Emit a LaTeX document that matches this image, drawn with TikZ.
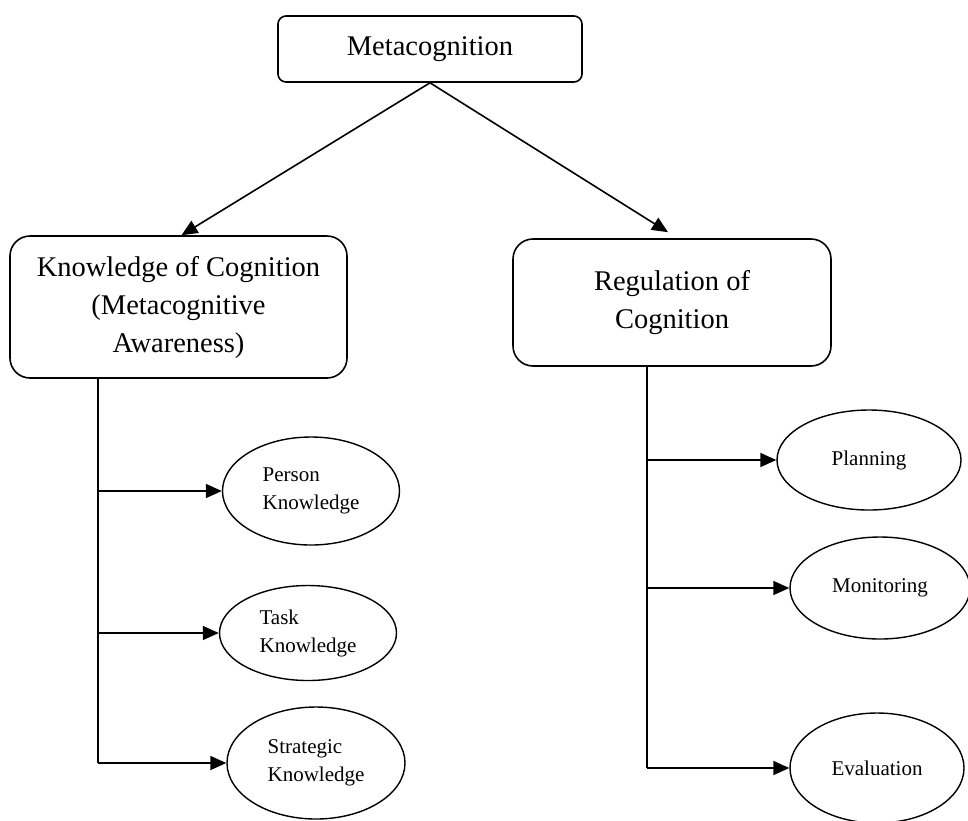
\documentclass[tikz,border=0pt]{standalone}
\usepackage{fontspec}
\setmainfont{Liberation Serif}
\usetikzlibrary{shapes.geometric,arrows.meta,calc}
\tikzset{
  bigbox/.style={draw, line width=1.6pt, rounded corners=#1, align=center, inner sep=0pt,
    font=\fontsize{28.5}{38}\selectfont},
  oval/.style={draw, ellipse, line width=1.4pt, inner sep=0pt, align=left,
    font=\fontsize{21}{28}\selectfont},
  conn/.style={line width=1.6pt},
  arr/.style={line width=1.6pt, -{Triangle[length=16pt,width=14pt]}},
}
\begin{document}
\begin{tikzpicture}[x=1pt,y=-1pt]
\useasboundingbox (0,0) rectangle (968,820);
% main boxes
\node[bigbox=8pt, minimum width=304pt, minimum height=66pt] (meta) at (430,49) {Metacognition};
\node[bigbox=20pt, minimum width=337pt, minimum height=142pt] (kc) at (178.5,307)
  {Knowledge of Cognition\\(Metacognitive\\Awareness)};
\node[bigbox=20pt, minimum width=318pt, minimum height=127pt] (rc) at (672,302.5)
  {Regulation of\\Cognition};
% ellipses
\node[oval, minimum width=177pt, minimum height=108pt] (pk) at (311,491) {Person\\Knowledge};
\node[oval, minimum width=177pt, minimum height=95pt] (tk) at (308,633) {Task\\Knowledge};
\node[oval, minimum width=178pt, minimum height=112pt] (sk) at (316,763) {Strategic\\Knowledge};
\node[oval, minimum width=184pt, minimum height=100pt] (pl) at (869,460) {Planning};
\node[oval, minimum width=180pt, minimum height=102pt] (mo) at (880,588) {Monitoring};
\node[oval, minimum width=174pt, minimum height=110pt] (ev) at (877,768) {Evaluation};
% top arrows
\draw[arr] (meta.south) -- ([xshift=3pt]kc.north);
\draw[arr] (meta.south) -- ([xshift=-4pt,yshift=6pt]rc.north);
% left trunk
\coordinate (ltop) at (98,378);
\coordinate (lbot) at (98,763);
\draw[conn] (ltop) -- (lbot);
\draw[arr] (ltop |- pk.west) -- (pk.west);
\draw[arr] (ltop |- tk.west) -- (tk.west);
\draw[arr] (lbot) -- (sk.west);
% right trunk
\coordinate (rtop) at (647,366);
\coordinate (rbot) at (647,768);
\draw[conn] (rtop) -- (rbot);
\draw[arr] (rtop |- pl.west) -- (pl.west);
\draw[arr] (rtop |- mo.west) -- (mo.west);
\draw[arr] (rbot) -- (ev.west);
\end{tikzpicture}
\end{document}
